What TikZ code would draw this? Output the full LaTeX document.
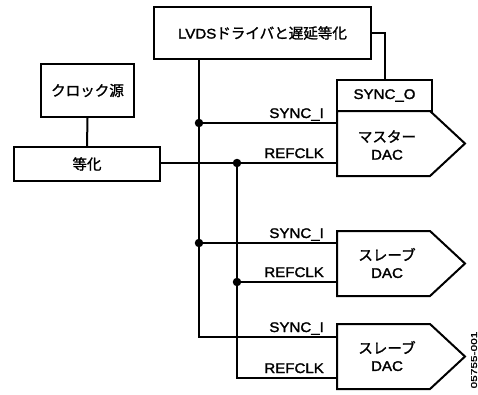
\documentclass[tikz,border=0pt]{standalone}
\usepackage{fontspec}
\setmainfont{Liberation Sans}[BoldFont=*, FakeBold=1.8, FakeStretch=1.08]
\newfontfamily\jpfont{Noto Sans CJK JP}[FakeBold=1.4]
\usetikzlibrary{calc}
\tikzset{
  box/.style={draw, line width=2bp, inner sep=0pt, align=center},
  lbl/.style={anchor=base east, inner sep=0pt, font=\fontsize{14}{14}\selectfont},
  dot/.style={circle, fill, inner sep=0pt, minimum size=8.5bp},
  wire/.style={line width=2bp},
  txt/.style={font=\fontsize{14}{17.5}\selectfont, align=center, inner sep=0pt}
}
\newcommand{\jp}[1]{{\jpfont\fontsize{14.6}{17.5}\selectfont #1}}
\begin{document}
\begin{tikzpicture}[x=1bp,y=-1bp, line join=miter]
\useasboundingbox (0,0) rectangle (478,394);
% boxes
\node[box, minimum width=217bp, minimum height=52bp, font=\fontsize{14}{14}\selectfont] (lvds) at (262.5,33) {LVDS\jp{ドライバと遅延等化}};
\node[box, minimum width=93bp, minimum height=53bp, font=\fontsize{14}{14}\selectfont] (clk) at (87.5,90.5) {\jp{クロック源}};
\node[box, minimum width=146bp, minimum height=34bp, font=\fontsize{14}{14}\selectfont] (eq) at (87,164) {\jp{等化}};
\node[box, minimum width=95bp, minimum height=31bp, font=\fontsize{14}{14}\selectfont] (synco) at (384.5,95.5) {SYNC\_O};
% DAC shapes
\coordinate (m1) at (337,111);
\coordinate (s1) at (337,231);
\coordinate (s2) at (337,324);
\foreach \c in {m1,s1,s2}{
  \draw[wire] (\c) -- ++(93,0) -- ++(35,32.5) -- ++(-35,32.5) -- ++(-93,0) -- cycle;
}
\node[txt] (mt) at (387,145) {\jp{マスター}\\DAC};
\node[txt] (s1t) at (387,263) {\jp{スレーブ}\\DAC};
\node[txt] (s2t) at (387,356) {\jp{スレーブ}\\DAC};
% input coordinates
\coordinate (msync) at (337,123);
\coordinate (mref) at (337,163);
\coordinate (s1sync) at (337,243);
\coordinate (s1ref) at (337,282);
\coordinate (s2sync) at (337,337);
\coordinate (s2ref) at (337,378);
% bus junctions
\node[dot] (d1) at (199,123) {};
\node[dot] (d2) at (237,163) {};
\node[dot] (d3) at (199,243) {};
\node[dot] (d4) at (237,282) {};
\coordinate (c1) at (199,337);
\coordinate (c2) at (237,378);
% wires
\draw[wire] (clk.south) -- (eq.north);
\draw[wire] (lvds.east) -| (synco.north);
\draw[wire] (lvds.south -| d1) -- (c1) -- (s2sync);
\draw[wire] (d1) -- (msync);
\draw[wire] (d3) -- (s1sync);
\draw[wire] (eq.east |- d2) -- (mref);
\draw[wire] (d2) -- (c2) -- (s2ref);
\draw[wire] (d4) -- (s1ref);
% labels
\node[lbl] (l1) at (324,118) {SYNC\_I};
\node[lbl] (l2) at (324,158) {REFCLK};
\node[lbl] (l3) at (324,238) {SYNC\_I};
\node[lbl] (l4) at (324,277) {REFCLK};
\node[lbl] (l5) at (324,332) {SYNC\_I};
\node[lbl] (l6) at (324,373) {REFCLK};
\node[rotate=90, inner sep=0pt, font=\fontsize{8.5}{8.5}\selectfont] (fig) at (474,360) {\scalebox{1.3}[1]{05755-001}};
\end{tikzpicture}
\end{document}
